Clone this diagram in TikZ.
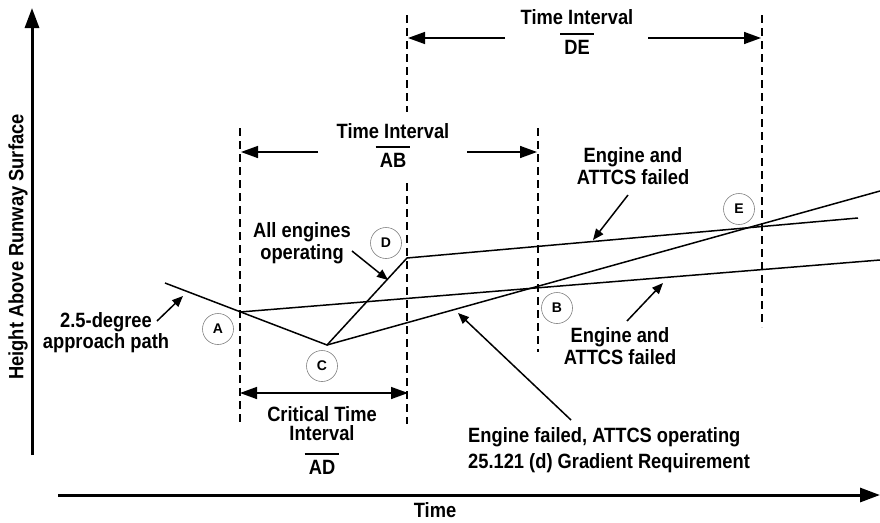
\documentclass[tikz,border=0pt]{standalone}
\usepackage{fontspec}
\usepackage{graphicx}
\setmainfont{Liberation Sans}
\usetikzlibrary{arrows.meta,calc}
\newcommand{\tall}[1]{\scalebox{1}[1.13]{#1}}
\begin{document}
\begin{tikzpicture}[x=1pt,y=-1pt,
 lbl/.style={font=\fontsize{18.3}{22}\selectfont\bfseries, inner sep=0pt, align=center},
 pt/.style={circle, draw=gray, line width=0.6pt, minimum size=31pt, inner sep=0pt, font=\fontsize{14}{14}\selectfont\bfseries},
 curve/.style={line width=1.5pt},
 guide/.style={line width=1.2pt, dash pattern=on 8pt off 5pt},
 span/.style={line width=1.5pt, -{Triangle[length=17pt,width=12pt]}},
 dspan/.style={line width=1.5pt, {Triangle[length=17pt,width=12pt]}-{Triangle[length=17pt,width=12pt]}},
 call/.style={line width=1.5pt, -{Triangle[length=11pt,width=9pt]}},
 axis/.style={line width=3pt, -{Triangle[length=20pt,width=14pt]}},
 ovl/.style={line width=2pt}]
\useasboundingbox (0,0) rectangle (880,522);

% axes
\coordinate (yb) at (32,455); \coordinate (yt) at (32,8);
\draw[axis] (yb) -- (yt);
\coordinate (xl) at (58,495); \coordinate (xr) at (880,495);
\draw[axis] (xl) -- (xr);
\node[lbl, rotate=90] (ylab) at (18,247) {\tall{Height Above Runway Surface}};
\node[lbl] (xlab) at (435,510) {\tall{Time}};

% dashed guides
\coordinate (gA1) at (240,128); \coordinate (gA2) at (240,424);
\coordinate (gD1) at (407,15);  \coordinate (gD2) at (407,112);
\coordinate (gD3) at (407,183); \coordinate (gD4) at (407,424);
\coordinate (gB1) at (538,128); \coordinate (gB2) at (538,352);
\coordinate (gE1) at (762,15);  \coordinate (gE2) at (762,327);
\draw[guide] (gA1) -- (gA2);
\draw[guide] (gD1) -- (gD2);
\draw[guide] (gD3) -- (gD4);
\draw[guide] (gB1) -- (gB2);
\draw[guide] (gE1) -- (gE2);

% interval DE
\node[lbl] (deT) at (577,17) {\tall{Time Interval}};
\node[lbl] (de) at (577,47) {\tall{DE}};
\draw[ovl] ([xshift=-4pt,yshift=6pt]de.north west) -- ([xshift=4pt,yshift=6pt]de.north east);
\coordinate (deL) at (505,38); \coordinate (deLt) at (408,38);
\coordinate (deR) at (648,38); \coordinate (deRt) at (761,38);
\draw[span] (deL) -- (deLt);
\draw[span] (deR) -- (deRt);

% interval AB
\node[lbl] (abT) at (393,131) {\tall{Time Interval}};
\node[lbl] (ab) at (393,160) {\tall{AB}};
\draw[ovl] ([xshift=-4pt,yshift=6pt]ab.north west) -- ([xshift=4pt,yshift=6pt]ab.north east);
\coordinate (abL) at (318,152); \coordinate (abLt) at (241,152);
\coordinate (abR) at (467,152); \coordinate (abRt) at (537,152);
\draw[span] (abL) -- (abLt);
\draw[span] (abR) -- (abRt);

% critical interval AD
\coordinate (adL) at (240,393); \coordinate (adR) at (408,393);
\draw[dspan] (adL) -- (adR);
\node[lbl, font=\fontsize{18.3}{19}\selectfont\bfseries] (crit) at (322,424) {\tall{Critical Time}\\\tall{Interval}};
\node[lbl] (ad) at (322,467) {\tall{AD}};
\draw[ovl] ([xshift=-4pt,yshift=6pt]ad.north west) -- ([xshift=4pt,yshift=6pt]ad.north east);

% flight paths
\coordinate (s0) at (165,283);
\coordinate (pA) at (240,312);
\coordinate (pC) at (327,345);
\coordinate (pD) at (407,258);
\coordinate (uEnd) at (858,218);
\coordinate (lEnd) at (880,260);
\coordinate (sEnd) at (880,191);
\draw[curve] (s0) -- (pC) -- (pD) -- (uEnd);
\draw[curve] (pA) -- (lEnd);
\draw[curve] (pC) -- (sEnd);

% point markers
\node[pt] (cA) at (218,329) {A};
\node[pt] (cC) at (322,366) {C};
\node[pt] (cD) at (386,243) {D};
\node[pt] (cB) at (557,308) {B};
\node[pt] (cE) at (739,209) {E};

% callouts
\node[lbl, font=\fontsize{18.3}{21}\selectfont\bfseries] (tAp) at (106,333) {\tall{2.5-degree}\\\tall{approach path}};
\coordinate (aAp1) at (157,321); \coordinate (aAp2) at (183,296);
\draw[call] (aAp1) -- (aAp2);

\node[lbl] (tAll) at (302,243) {\tall{All engines}\\\tall{operating}};
\coordinate (aAl1) at (352,251); \coordinate (aAl2) at (388,280);
\draw[call] (aAl1) -- (aAl2);

\node[lbl] (tUp) at (633,166) {\tall{Engine and}\\\tall{ATTCS failed}};
\coordinate (aUp1) at (628,195); \coordinate (aUp2) at (593,240);
\draw[call] (aUp1) -- (aUp2);

\node[lbl] (tLo) at (620,346) {\tall{Engine and}\\\tall{ATTCS failed}};
\coordinate (aLo1) at (627,321); \coordinate (aLo2) at (663,283);
\draw[call] (aLo1) -- (aLo2);

\node[lbl, font=\fontsize{18.3}{26}\selectfont\bfseries, align=left, anchor=west] (tFail) at (468,450) {\tall{Engine failed, ATTCS operating}\\\tall{25.121 (d) Gradient Requirement}};
\coordinate (aFa1) at (571,420); \coordinate (aFa2) at (458,313);
\draw[call] (aFa1) -- (aFa2);
\end{tikzpicture}
\end{document}
